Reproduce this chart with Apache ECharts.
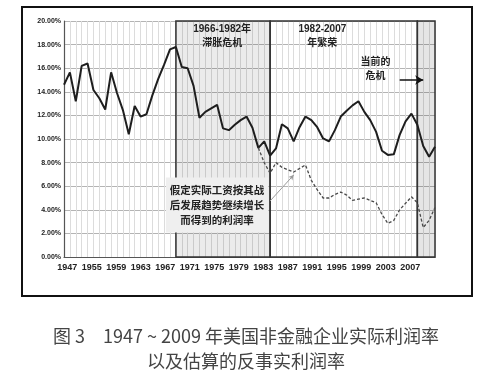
<!DOCTYPE html>
<html>
<head>
<meta charset="utf-8">
<script src="https://cdn.jsdelivr.net/npm/echarts@6/dist/echarts.min.js"></script>
<style>
  html, body { margin: 0; padding: 0; background: #fff; }
  #main { width: 492px; height: 376px; }
</style>
</head>
<body>
<div id="main"></div>
<script>
// years on the category axis, 1947 - 2010
var years = [];
for (var y = 1947; y <= 2010; y++) { years.push(String(y)); }

// tick labels printed under the axis (as in the original picture)
var tickLabels = ['1947', '1955', '1959', '1963', '1967', '1971', '1975', '1979',
                  '1983', '1987', '1991', '1995', '1999', '2003', '2007'];

// actual profit rate of US nonfinancial corporations (%)
var actualRate = [
  14.6, 15.65, 13.2, 16.2, 16.4, 14.15, 13.45, 12.5, 15.65, 13.9,
  12.45, 10.4, 12.8, 11.9, 12.1, 13.7, 15.1, 16.3, 17.6, 17.8,
  16.1, 16.0, 14.5, 11.8, 12.3, 12.6, 12.9, 10.9, 10.75, 11.2,
  11.6, 11.9, 10.95, 9.25, 9.8, 8.6, 9.2, 11.25, 10.9, 9.8,
  11.0, 11.9, 11.6, 11.0, 10.05, 9.8, 10.75, 11.9, 12.4, 12.85,
  13.2, 12.3, 11.6, 10.6, 9.0, 8.65, 8.7, 10.35, 11.5, 12.15,
  11.2, 9.4, 8.5, 9.35
];

// counterfactual profit rate, starts 1980 (%)
var counterRate = [
  null, null, null, null, null, null, null, null, null, null,
  null, null, null, null, null, null, null, null, null, null,
  null, null, null, null, null, null, null, null, null, null,
  null, null, null, 9.25, 8.0, 7.1, 8.0, 7.6, 7.4, 7.2,
  7.5, 7.8, 6.5, 5.7, 5.0, 5.0, 5.3, 5.5, 5.25, 4.8,
  4.9, 5.0, 4.8, 4.6, 3.6, 2.85, 3.1, 4.0, 4.55, 5.1,
  4.6, 2.5, 3.1, 4.2
];

var periods = [
  ['1966', '1982', '1966-1982年\n滞胀危机'],
  ['1982', '2007', '1982-2007\n年繁荣'],
  ['2007', '2010', '当前的\n危机']
];

var boldFont = "'Liberation Sans', 'Noto Sans CJK SC', sans-serif";

var myChart = echarts.init(document.getElementById('main'));

var areaData = [
  [{ xAxis: periods[0][0], itemStyle: { color: 'rgba(0,0,0,0.08)' },
     label: { show: true, formatter: periods[0][2], position: [47, 2], align: 'center', verticalAlign: 'top' } },
   { xAxis: periods[0][1] }],
  [{ xAxis: periods[1][0], itemStyle: { color: 'rgba(255,255,255,0)' },
     label: { show: true, formatter: periods[1][2], position: [53, 2], align: 'center', verticalAlign: 'top' } },
   { xAxis: periods[1][1] }],
  [{ xAxis: periods[2][0], itemStyle: { color: 'rgba(0,0,0,0.1)' },
     label: { show: true, formatter: periods[2][2], position: [-41, 35], align: 'center', verticalAlign: 'top' } },
   { xAxis: periods[2][1] }]
];

var option = {
  animation: false,
  title: {
    text: '图 3　1947 ~ 2009 年美国非金融企业实际利润率\n以及估算的反事实利润率',
    left: 'center',
    top: 319,
    textStyle: {
      fontFamily: "'Noto Sans CJK SC', sans-serif",
      fontSize: 18,
      fontWeight: 'normal',
      lineHeight: 25,
      color: '#444'
    }
  },
  graphic: [
    { type: 'rect', shape: { x: 22, y: 7, width: 450, height: 289 },
      style: { fill: 'none', stroke: '#111', lineWidth: 2 }, silent: true }
  ],
  grid: [
    { left: 64, right: 57, top: 21, bottom: 119 },
    { left: 55, right: 69.5, top: 21, bottom: 119 }
  ],
  xAxis: [
    {
      type: 'category', gridIndex: 0, data: years, boundaryGap: false,
      axisLine: { lineStyle: { color: '#555', width: 1.2 } },
      axisTick: { show: false },
      axisLabel: { show: false },
      splitLine: { show: true, interval: 0, lineStyle: { color: '#dcdcdc', width: 1 } }
    },
    {
      type: 'category', gridIndex: 1, data: tickLabels, boundaryGap: true,
      axisLine: { show: false }, axisTick: { show: false }, splitLine: { show: false },
      axisLabel: { interval: 0, margin: 6, fontSize: 9, fontWeight: 'bold', color: '#222', fontFamily: boldFont }
    }
  ],
  yAxis: [
    {
      type: 'value', gridIndex: 0, min: 0, max: 20, interval: 2,
      axisLine: { show: true, lineStyle: { color: '#555', width: 1.2 } },
      axisTick: { show: false },
      axisLabel: {
        margin: 3, fontSize: 7, fontWeight: 'bold', color: '#222', fontFamily: boldFont,
        formatter: function (v) { return v.toFixed(2) + '%'; }
      },
      splitLine: { lineStyle: { color: '#b4b4b4', width: 1 } }
    },
    { type: 'value', gridIndex: 1, show: false, min: 0, max: 20 }
  ],
  series: [
    {
      name: '实际利润率',
      type: 'line',
      xAxisIndex: 0, yAxisIndex: 0,
      data: actualRate,
      symbol: 'none',
      lineStyle: { color: '#1e1e1e', width: 2 },
      z: 3,
      markArea: {
        silent: true,
        itemStyle: { borderColor: '#333', borderWidth: 1.5 },
        label: { fontSize: 10, fontWeight: 'bold', color: '#222', lineHeight: 14, fontFamily: boldFont },
        data: areaData
      },
      markLine: {
        silent: true,
        symbol: ['none', 'arrow'],
        symbolSize: [7, 8],
        label: { show: false },
        lineStyle: { color: '#111', width: 1.5, type: 'solid' },
        data: [[{ coord: ['2004', 15] }, { coord: ['2008', 15] }]]
      }
    },
    {
      name: '反事实利润率',
      type: 'line',
      xAxisIndex: 0, yAxisIndex: 0,
      data: counterRate,
      symbol: 'none',
      lineStyle: { color: '#4a4a4a', width: 1.3, type: [3, 2] },
      z: 4,
      markLine: {
        silent: true,
        symbol: ['none', 'arrow'],
        symbolSize: [4, 5],
        label: { show: false },
        lineStyle: { color: '#9a9a9a', width: 1, type: 'solid' },
        data: [[{ coord: ['1982', 4.75] }, { coord: ['1986', 6.95] }]]
      },
      markPoint: {
        silent: true,
        symbol: 'circle',
        symbolSize: 0,
        data: [{
          coord: ['1973', 4.4],
          label: {
            show: true,
            position: 'inside',
            formatter: '假定实际工资按其战\n后发展趋势继续增长\n而得到的利润率',
            fontSize: 10.5, fontWeight: 'bold', color: '#222', lineHeight: 15,
            fontFamily: "'Noto Sans CJK SC', sans-serif",
            backgroundColor: '#efefef',
            padding: [5, 4, 5, 4],
            align: 'center'
          }
        }]
      }
    }
  ]
};

myChart.setOption(option);
</script>
</body>
</html>
